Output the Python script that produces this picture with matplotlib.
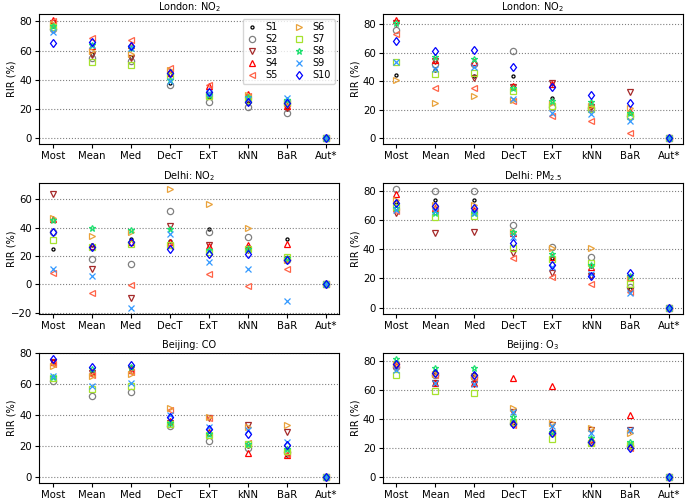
import numpy as np
import matplotlib
matplotlib.use('Agg')
import matplotlib.pyplot as plt

# categories on the x axis
methods = ['Most', 'Mean', 'Med', 'DecT', 'ExT', 'kNN', 'BaR', 'Aut*']
series_names = ['S1', 'S2', 'S3', 'S4', 'S5', 'S6', 'S7', 'S8', 'S9', 'S10']

# RIR (%) per series (rows S1..S10), per method (columns)
london_no2_a = [
    [77, 58, 56, 38, 28, 24, 20, 0],
    [75, 55, 53, 36.5, 25, 21.5, 17.5, 0],
    [79, 57, 55, 44, 30, 27, 21, 0],
    [81, 63, 64, 45, 36, 30.5, 22, 0],
    [80, 69, 67.5, 48, 36.5, 29, 24, 0],
    [78, 60, 58, 47, 30, 30, 24, 0],
    [76, 52.5, 50.5, 42.5, 29, 26, 25, 0],
    [77, 64, 62, 40, 30, 28, 26, 0],
    [72.5, 64, 62, 39, 31, 27, 27.5, 0],
    [65.5, 66, 63, 45, 31.5, 25, 24, 0],
]
london_no2_b = [
    [44.5, 48, 44, 44, 28.5, 22, 18, 0],
    [76, 52, 52, 61.5, 22, 21, 16, 0],
    [81, 54, 42, 36, 39, 22, 32.5, 0],
    [83, 55, 53.5, 37, 38, 24, 19.5, 0],
    [73, 35.5, 35.5, 26, 16, 12, 3.5, 0],
    [41, 25, 29.5, 27, 25, 23, 21.5, 0],
    [53.5, 45.5, 46, 33.5, 23, 20.5, 15.5, 0],
    [81, 57, 56, 35.5, 26.5, 25.5, 17.5, 0],
    [53.5, 48.5, 50, 27.5, 17.5, 17, 12, 0],
    [68, 61, 62, 50, 36, 30.5, 24.5, 0],
]
delhi_no2 = [
    [25, 28, 32, 30.5, 39, 26, 32, 0],
    [37, 17.5, 14, 52, 37, 33, 17, 0],
    [63.5, 11, -10, 41, 28, 24, 18, 0],
    [46, 27, 30, 30, 27, 28, 28.5, 0],
    [8, -6.5, -0.5, 27, 7, -1, 11, 0],
    [46.5, 34, 37, 67, 56.5, 39.5, 17, 0],
    [31.5, 26, 28.5, 28, 23, 25, 19.5, 0],
    [45.5, 39.5, 38.5, 39, 24, 25, 18.5, 0],
    [10.5, 5.5, -16.5, 35.5, 16, 11, -11.5, 0],
    [37, 26.5, 30, 25, 21, 21, 17, 0],
]
delhi_pm25 = [
    [72, 74, 73.5, 50, 34, 28.5, 13, 0],
    [81, 79.5, 79.5, 56.5, 41.5, 35, 14, 0],
    [64.5, 51, 52, 37.5, 23.5, 22, 12, 0],
    [77.5, 68, 67, 51, 35, 28, 21, 0],
    [66, 67, 66, 34, 21, 16, 11, 0],
    [74, 70, 70.5, 51.5, 41, 40.5, 20.5, 0],
    [69, 62, 63, 40.5, 33.5, 30.5, 16, 0],
    [68, 65, 64.5, 52, 37, 29, 22, 0],
    [67, 66, 65, 48.5, 28, 23, 10, 0],
    [71.5, 69.5, 68.5, 44, 29, 22, 24, 0],
]
beijing_co = [
    [75, 67, 71, 36, 28, 20, 14, 0],
    [62, 52.5, 55, 33, 23.5, 19, 16, 0],
    [74, 67, 70, 35, 38, 33.5, 29, 0],
    [74, 68, 69, 36, 29, 15.5, 14, 0],
    [73, 66, 67.5, 43.5, 38, 22, 15, 0],
    [72, 65, 66.5, 44.5, 38.5, 32, 33.5, 0],
    [64, 57, 58.5, 34, 27, 21, 17, 0],
    [64.5, 70, 71, 35, 27.5, 21.5, 18, 0],
    [65.5, 59, 61, 40, 32, 30, 22.5, 0],
    [76.5, 71, 72.5, 39, 31, 28, 20.5, 0],
]
beijing_o3 = [
    [77, 72, 71, 37, 31, 25, 21, 0],
    [76, 70, 69, 37, 30, 24, 21, 0],
    [76, 64.5, 64, 45, 36, 32, 32, 0],
    [77, 65, 64.5, 68, 62.5, 26, 42.5, 0],
    [77, 70, 69, 35.5, 30, 23.5, 20, 0],
    [78, 71, 69.5, 47.5, 37, 33.5, 30, 0],
    [70, 59.5, 58, 38, 26, 23.5, 22, 0],
    [81.5, 75, 75, 41, 31, 27, 24, 0],
    [73.5, 64.5, 64, 45, 35, 30.5, 32, 0],
    [78, 71.5, 70.5, 36.5, 30.5, 24, 20, 0],
]

# marker / colour per series
markers = ['o', 'o', 'v', '^', '<', '>', 's', '*', 'x', 'd']
colors = ['black', 'gray', 'brown', 'red', 'tomato', '#e9a23b',
          '#a6e22e', '#1fe070', '#3399ff', 'blue']
sizes = [2.2, 4.5, 4.5, 4.5, 4.5, 4.5, 4.5, 4.5, 4.5, 4.5]

plt.rcParams['font.size'] = 7


def plot_panel(ax, values, title, legend=False):
    """Scatter of RIR values for all series in one panel"""
    x = np.arange(len(methods))
    for i, name in enumerate(series_names):
        ax.plot(x, values[i], linestyle='none', marker=markers[i],
                markersize=sizes[i], markerfacecolor='none',
                markeredgecolor=colors[i], markeredgewidth=0.9,
                label=name)
    ax.set_xticks(x)
    ax.set_xticklabels(methods, fontsize=7.3)
    ax.tick_params(axis='both', length=3, pad=2)
    ax.tick_params(axis='y', labelsize=7.3)
    ax.set_ylabel('RIR (%)', fontsize=7)
    # same label position in every panel
    ax.yaxis.set_label_coords(-0.075, 0.5)
    ax.set_title(title, fontsize=7, pad=3)
    ax.yaxis.grid(True, linestyle=':', color='gray', linewidth=0.8)
    ax.set_axisbelow(True)
    if legend:
        ax.legend(ncol=2, loc='upper right', fontsize=7, handlelength=1.2,
                  handletextpad=0.8, columnspacing=1.6, labelspacing=0.2,
                  borderpad=0.35)


fig, axes = plt.subplots(3, 2, figsize=(6.85, 5.04), dpi=100)
plt.subplots_adjust(left=0.057, right=0.997, top=0.972, bottom=0.042,
                    wspace=0.144, hspace=0.30)

plot_panel(axes[0, 0], london_no2_a, 'London: NO$_2$', legend=True)
plot_panel(axes[0, 1], london_no2_b, 'London: NO$_2$')
plot_panel(axes[1, 0], delhi_no2, 'Delhi: NO$_2$')
plot_panel(axes[1, 1], delhi_pm25, 'Delhi: PM$_{2.5}$')
plot_panel(axes[2, 0], beijing_co, 'Beijing: CO')
plot_panel(axes[2, 1], beijing_o3, 'Beijing: O$_3$')

fig.savefig('out.png', dpi=100)
